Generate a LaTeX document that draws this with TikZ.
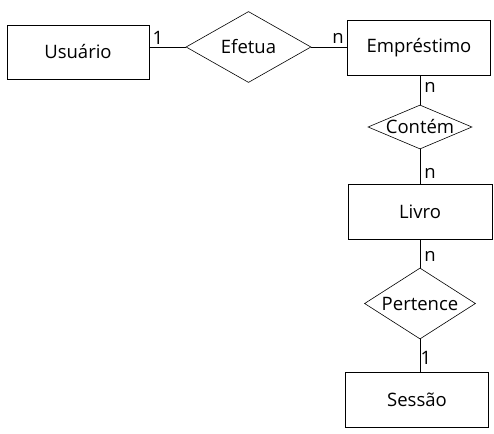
\documentclass[tikz,border=0pt]{standalone}
\usepackage{fontspec}
\setmainfont{Open Sans}
\usetikzlibrary{shapes.geometric}
\tikzset{
  entity/.style={draw, rectangle, minimum width=142pt, minimum height=54pt, inner sep=0pt, line width=0.8pt},
  relation/.style={draw, diamond, inner sep=0pt, line width=0.6pt},
  card/.style={inner sep=0pt}
}
\begin{document}
\begin{tikzpicture}[x=1pt, y=-1pt, font=\fontsize{18.5}{20}\selectfont]
    \useasboundingbox (0,0) rectangle (494,433);

    % Entities
    \node[entity] (usuario) at (78,52) {Usuário};
    \node[entity, minimum width=143pt, minimum height=55pt] (emprestimo) at (419,47.5) {Empréstimo};
    \node[entity, minimum width=144pt, minimum height=55pt] (livro) at (420,211.5) {Livro};
    \node[entity, minimum width=143pt, minimum height=55pt] (sessao) at (417,399.5) {Sessão};

    % Relationships
    \node[relation, minimum width=125pt, minimum height=71pt, label=center:Efetua] (efetua) at (248.5,47) {};
    \node[relation, minimum width=104pt, minimum height=44pt, label=center:Contém] (contem) at (420,127) {};
    \node[relation, minimum width=111pt, minimum height=71pt, label=center:Pertence] (pertence) at (420,303.5) {};

    % Connectors
    \draw[line width=0.8pt] (efetua.west -| usuario.east) -- (efetua.west);
    \draw[line width=0.8pt] (efetua.east) -- (efetua.east -| emprestimo.west);
    \draw[line width=0.8pt] (contem.north |- emprestimo.south) -- (contem.north);
    \draw[line width=0.8pt] (contem.south) -- (contem.south |- livro.north);
    \draw[line width=0.8pt] (pertence.north |- livro.south) -- (pertence.north);
    \draw[line width=0.8pt] (pertence.south) -- (pertence.south |- sessao.north);

    % Cardinalities
    \node[card] (c1) at (158,38) {1};
    \node[card] (c2) at (338,38) {n};
    \node[card] (c3) at (430,87) {n};
    \node[card] (c4) at (430,173) {n};
    \node[card] (c5) at (430,256) {n};
    \node[card] (c6) at (426,358) {1};
\end{tikzpicture}
\end{document}
